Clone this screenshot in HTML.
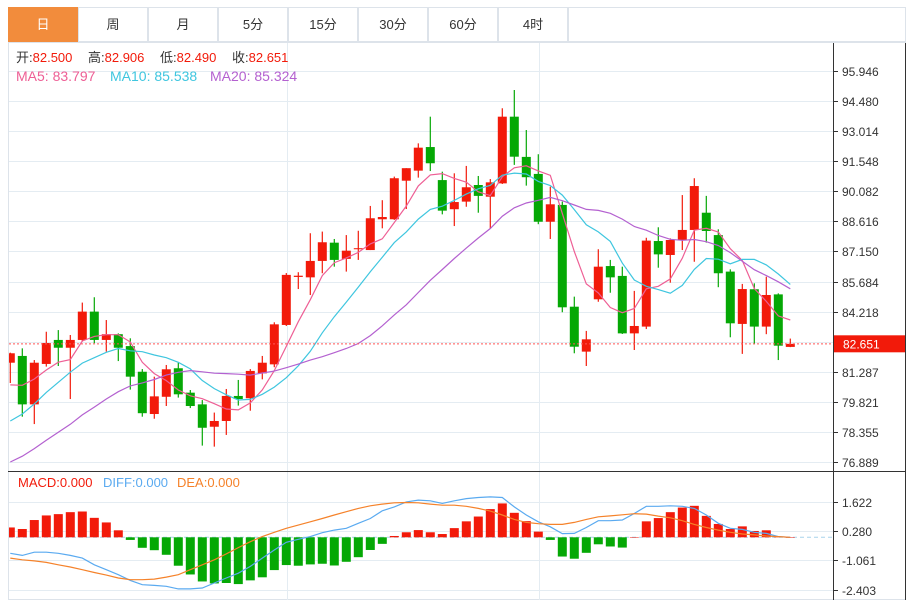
<!DOCTYPE html>
<html><head><meta charset="utf-8"><style>
body{margin:0;background:#fff;width:914px;height:602px;overflow:hidden;font-family:"Liberation Sans","Noto Sans CJK SC",sans-serif}
.tab{position:absolute;top:7px;height:35px;width:70px;border:1px solid #dde3ea;box-sizing:border-box;text-align:center;line-height:34px;font-size:13px;color:#333;background:#fff}
</style></head><body>
<div>
<div class="tab" style="left:8px;background:#f28c3c;color:#fff;border-color:#f28c3c">日</div>
<div class="tab" style="left:78px">周</div>
<div class="tab" style="left:148px">月</div>
<div class="tab" style="left:218px">5分</div>
<div class="tab" style="left:288px">15分</div>
<div class="tab" style="left:358px">30分</div>
<div class="tab" style="left:428px">60分</div>
<div class="tab" style="left:498px">4时</div>
<div class="tab" style="left:568px;width:338px"></div>
</div>
<svg id="chart" width="914" height="602" style="position:absolute;left:0;top:0" xmlns="http://www.w3.org/2000/svg" font-family="Liberation Sans, Noto Sans CJK SC, sans-serif"></svg>
<script>
const opens=[81.73,82.06,79.70,81.67,82.84,82.46,82.84,84.22,82.84,83.12,82.54,81.29,79.23,80.07,81.46,80.27,79.70,78.61,78.89,80.11,80.00,81.21,81.65,83.57,85.91,85.89,86.69,87.58,86.79,87.26,87.22,88.72,88.72,90.60,91.09,92.24,90.63,89.21,89.58,90.39,89.82,90.47,93.72,91.76,90.93,88.60,89.42,84.46,82.27,84.82,86.44,85.96,83.16,83.49,87.66,86.98,87.71,88.20,89.04,87.95,86.17,83.62,85.31,83.49,85.06,82.50];
const highs=[82.22,82.43,81.86,83.24,83.32,83.08,84.66,84.92,83.81,83.16,82.92,81.42,81.05,81.62,81.73,80.40,79.91,79.30,80.45,80.89,81.42,82.06,83.70,86.10,86.14,88.04,88.12,87.76,87.95,88.16,89.37,89.65,90.80,91.21,92.42,93.72,91.04,90.96,91.32,90.83,90.68,94.13,95.02,93.07,91.89,90.31,89.58,84.95,83.28,87.26,86.74,86.41,85.23,87.82,88.33,87.79,89.90,90.72,89.86,88.23,86.28,85.57,85.60,85.92,85.11,82.906];
const lows=[80.74,79.10,78.74,81.54,81.57,79.96,82.76,82.68,82.27,81.81,80.42,79.10,79.00,79.62,80.03,79.52,77.69,77.64,78.21,79.64,79.39,80.92,81.51,83.52,85.32,85.03,86.09,86.41,86.17,86.74,87.22,88.28,88.69,89.22,90.75,91.07,88.96,88.39,89.33,89.04,88.25,90.44,91.37,90.36,88.48,87.76,84.19,82.19,81.57,84.70,85.14,83.13,82.35,83.37,86.36,85.63,87.22,86.65,87.58,85.41,82.97,82.16,82.63,83.12,81.86,82.49];
const closes=[82.19,79.70,81.73,82.69,82.46,82.84,84.22,82.84,83.12,82.46,81.05,79.27,80.09,81.41,80.19,79.62,78.56,78.89,80.11,79.96,81.33,81.73,83.60,86.01,85.97,86.69,87.60,86.74,87.19,87.31,88.77,88.83,90.72,91.21,92.21,91.45,89.14,89.56,90.28,89.86,90.52,93.72,91.77,90.77,88.60,89.45,84.43,82.51,82.87,86.41,85.89,83.16,83.52,87.68,87.01,87.71,88.20,90.34,88.15,86.09,83.65,85.32,83.49,85.03,82.56,82.651];
const prevCloses=[74.0,74.3,74.5,74.8,75.0,75.1,75.2,75.3,75.3,75.4,76.3,76.8,77.1,77.5,77.94,79.8,80.2,80.5,80.56];
const macdHist=[0.45,0.38,0.79,1.0,1.06,1.15,1.18,0.89,0.68,0.32,-0.12,-0.48,-0.59,-0.80,-1.30,-1.70,-2.02,-2.11,-2.09,-2.14,-1.97,-1.83,-1.50,-1.27,-1.30,-1.24,-1.21,-1.29,-1.12,-0.91,-0.58,-0.30,0.06,0.23,0.33,0.23,0.15,0.42,0.73,0.95,1.29,1.55,1.12,0.74,0.26,-0.12,-0.88,-0.98,-0.71,-0.32,-0.42,-0.47,0.0,0.73,0.88,1.15,1.36,1.44,0.98,0.61,0.38,0.50,0.29,0.32,0.03,0.0];
const diffVals=[-0.73,-0.83,-0.68,-0.68,-0.73,-0.83,-0.95,-1.26,-1.48,-1.71,-1.97,-2.17,-2.20,-2.24,-2.36,-2.36,-2.32,-2.09,-1.86,-1.64,-1.33,-0.95,-0.58,-0.23,-0.09,0.03,0.21,0.33,0.41,0.64,0.86,1.21,1.39,1.62,1.70,1.67,1.55,1.67,1.77,1.82,1.85,1.82,1.39,1.02,0.71,0.48,0.17,0.18,0.45,0.76,0.76,0.79,1.09,1.42,1.42,1.44,1.42,1.32,1.02,0.64,0.41,0.36,0.23,0.18,0.03,0.0];
const deaVals=[-0.95,-1.03,-1.08,-1.15,-1.26,-1.36,-1.48,-1.61,-1.73,-1.86,-1.94,-1.94,-1.91,-1.82,-1.71,-1.48,-1.26,-1.03,-0.76,-0.47,-0.20,0.03,0.23,0.41,0.56,0.71,0.86,1.02,1.17,1.32,1.44,1.52,1.58,1.59,1.58,1.52,1.47,1.47,1.42,1.32,1.20,1.02,0.82,0.68,0.62,0.59,0.59,0.68,0.82,0.94,0.98,1.03,1.08,1.06,0.97,0.89,0.76,0.59,0.45,0.33,0.23,0.15,0.11,0.06,0.03,0.0];
const priceTicks=[95.946,94.480,93.014,91.548,90.082,88.616,87.150,85.684,84.218,82.752,81.287,79.821,78.355,76.889];
const macdTicks=[1.622,0.280,-1.061,-2.403];

const svg=document.getElementById('chart');
const NS='http://www.w3.org/2000/svg';
function mk(tag,attrs,parent){const e=document.createElementNS(NS,tag);for(const k in attrs)e.setAttribute(k,attrs[k]);(parent||svg).appendChild(e);return e;}
const xAt=i=>10.3+12*i;
const yP=p=>71+(95.946-p)*20.52;
const yM=v=>537.3-v*21.86;
const RED='#f21a0a',GREEN='#05a805';

let fr=mk('rect',{x:8.5,y:42.5,width:897,height:557,fill:'none',stroke:'#dde3ea'});


const defs=mk('defs',{});
const cp=mk('clipPath',{id:'pc'},defs);mk('rect',{x:9,y:43,width:824,height:428},cp);
const cm=mk('clipPath',{id:'mc'},defs);mk('rect',{x:9,y:472,width:824,height:128},cm);

const grid=mk('g',{stroke:'#e4ecf2','stroke-width':1});


priceTicks.forEach(t=>{const y=Math.round(yP(t))+0.5;mk('line',{x1:9,x2:833,y1:y,y2:y},grid);});
macdTicks.forEach(t=>{const y=Math.round(yM(t))+0.5;mk('line',{x1:9,x2:833,y1:y,y2:y},grid);});
[287.5,539.5].forEach(x=>mk('line',{x1:x,x2:x,y1:43,y2:600},grid));

const ax=mk('g',{stroke:'#333','stroke-width':1});


mk('line',{x1:833.5,x2:833.5,y1:43,y2:600},ax);
mk('line',{x1:8,x2:906,y1:471.5,y2:471.5},ax);
mk('line',{x1:905.5,x2:905.5,y1:43,y2:600},ax);
priceTicks.forEach((t,i)=>{
  const y=Math.round(yP(t))+0.5;
  if(i===9)return;
  mk('line',{x1:833,x2:838,y1:y,y2:y},ax);
  const tx=mk('text',{x:842,y:y+4.5,'font-size':12,fill:'#333',stroke:'none'});tx.textContent=t.toFixed(3);
  
  
});
macdTicks.forEach(t=>{
  const y=Math.round(yM(t))+0.5;
  mk('line',{x1:833,x2:838,y1:y,y2:y},ax);
  const tx=mk('text',{x:842,y:y+4.5,'font-size':12,fill:'#333',stroke:'none'});tx.textContent=t.toFixed(3);
  
  
});

const cg=mk('g',{'clip-path':'url(#pc)'});


closes.forEach((c,i)=>{
  const o=opens[i],up=c>=o,col=up?RED:GREEN,x=xAt(i);
  const w=mk('line',{x1:x,x2:x,y1:yP(highs[i]),y2:yP(lows[i]),stroke:col,'stroke-width':1.2},cg);
  
  
  const top=yP(Math.max(o,c)),bot=yP(Math.min(o,c));
  const b=mk('rect',{x:x-4.5,y:top,width:9,height:Math.max(1,bot-top),fill:col},cg);
  
  
});

const all=prevCloses.concat(closes);
function ma(n){return closes.map((_,i)=>{const e=prevCloses.length+i;let s=0;for(let k=e-n+1;k<=e;k++)s+=all[k];return s/n;});}
[[5,'#ee5f95','ma5-line'],[10,'#3fc6df','ma10-line'],[20,'#b461d0','ma20-line']].forEach(([n,col,name])=>{
  const pts=ma(n).map((v,i)=>xAt(i).toFixed(1)+','+yP(v).toFixed(1)).join(' ');
  const pl=mk('polyline',{points:pts,fill:'none',stroke:col,'stroke-width':1.2,'clip-path':'url(#pc)'});
  
  
});

const last=closes[closes.length-1],ly=yP(last);
const lp=mk('line',{x1:9,x2:833,y1:ly,y2:ly,stroke:'#f55','stroke-width':1,'stroke-dasharray':'2,2'});


const lb=mk('rect',{x:834,y:ly-8.5,width:71,height:17,fill:'#f21a0a'});


const lt=mk('text',{x:843,y:ly+4.5,'font-size':12,fill:'#fff'});lt.textContent=last.toFixed(3);



const z=yM(0);
const zl=mk('line',{x1:9,x2:833,y1:z,y2:z,stroke:'#a8d4ec','stroke-dasharray':'4,3'});


const mg=mk('g',{'clip-path':'url(#mc)'});


macdHist.forEach((v,i)=>{
  const y=yM(v),x=xAt(i);
  const r=mk('rect',{x:x-4.5,y:Math.min(y,z),width:9,height:Math.max(0.5,Math.abs(y-z)),fill:v>=0?RED:GREEN},mg);
  
  
});
[[diffVals,'#5aaaf0','diff-line'],[deaVals,'#f5822a','dea-line']].forEach(([arr,col,name])=>{
  const pts=arr.map((v,i)=>xAt(i).toFixed(1)+','+yM(v).toFixed(1)).join(' ');
  const pl=mk('polyline',{points:pts,fill:'none',stroke:col,'stroke-width':1.2,'clip-path':'url(#mc)'});
  
  
});

function txt(x,y,s,col,name,fs){const t=mk('text',{x:x,y:y,'font-size':fs||13,fill:col});t.textContent=s;return t;}
const hdr=[['开:','82.500',16],['高:','82.906',88],['低:','82.490',160],['收:','82.651',232]];
hdr.forEach(([l,v,x])=>{const t=txt(x,62,l,'#333','ohlc-legend-entry');const s=document.createElementNS(NS,'tspan');s.setAttribute('fill','#f21a0a');s.textContent=v;t.appendChild(s);});
txt(16,81,'MA5: 83.797','#ee5f95','ma5-legend',14);
txt(110,81,'MA10: 85.538','#3fc6df','ma10-legend',14);
txt(210,81,'MA20: 85.324','#b461d0','ma20-legend',14);
txt(18,487,'MACD:0.000','#f21a0a','macd-legend');
txt(103,487,'DIFF:0.000','#5aaaf0','diff-legend');
txt(177,487,'DEA:0.000','#f5822a','dea-legend');
</script>
</body></html>
